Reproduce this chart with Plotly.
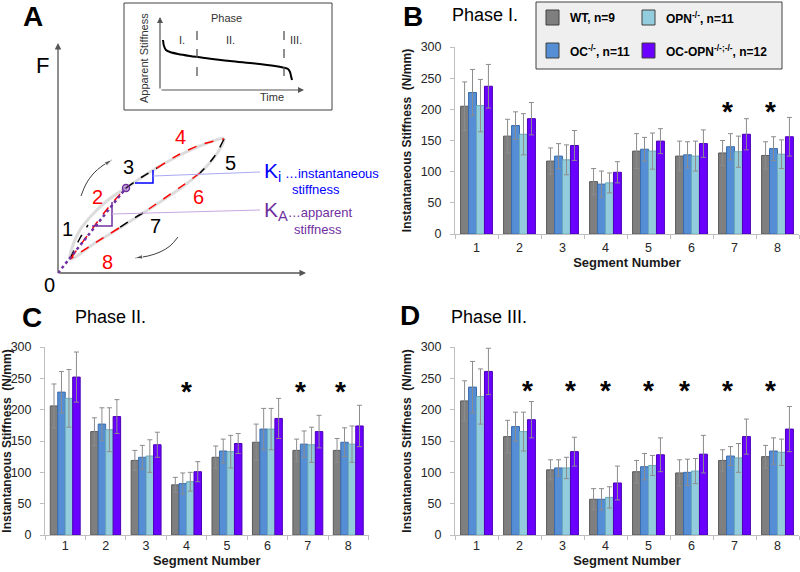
import plotly.graph_objects as go

FONT = "Liberation Sans, Arial, sans-serif"
W, H = 800, 572

# ---------------- data ----------------
segments = ["1", "2", "3", "4", "5", "6", "7", "8"]
group_names = ["WT, n=9", "OC<sup>-/-</sup>, n=11", "OPN<sup>-/-</sup>, n=11",
               "OC-OPN<sup>-/-;-/-</sup>, n=12"]
group_fill = ["#7f7f7f", "#558ed5", "#93cddd", "#6a00ff"]
group_line = ["#5a5a5a", "#3b6cab", "#6aaabb", "#4a00b5"]

phase1_wt = [205, 157, 117, 84, 133, 125, 130, 126]
phase1_wt_sd = [39, 27, 21, 21, 28, 24, 20, 22]
phase1_oc = [227, 174, 125, 80, 136, 127, 140, 137]
phase1_oc_sd = [37, 22, 20, 21, 19, 21, 21, 19]
phase1_opn = [206, 160, 119, 82, 133, 125, 132, 128]
phase1_opn_sd = [42, 33, 24, 16, 29, 24, 25, 23]
phase1_dko = [237, 185, 142, 99, 149, 145, 160, 156]
phase1_dko_sd = [35, 26, 24, 17, 20, 22, 25, 31]

phase2_wt = [206, 165, 119, 80, 124, 148, 135, 135]
phase2_wt_sd = [35, 22, 16, 12, 18, 29, 18, 19]
phase2_oc = [228, 177, 124, 82, 134, 169, 145, 148]
phase2_oc_sd = [33, 26, 19, 17, 19, 33, 21, 23]
phase2_opn = [218, 168, 126, 85, 133, 169, 144, 145]
phase2_opn_sd = [46, 35, 26, 15, 26, 33, 28, 29]
phase2_dko = [252, 189, 144, 101, 146, 186, 165, 174]
phase2_dko_sd = [40, 27, 20, 16, 16, 32, 26, 33]

phase3_wt = [214, 157, 104, 57, 101, 99, 119, 125]
phase3_wt_sd = [32, 26, 16, 17, 18, 21, 17, 18]
phase3_oc = [236, 173, 107, 57, 109, 100, 126, 134]
phase3_oc_sd = [41, 23, 13, 17, 21, 21, 15, 21]
phase3_opn = [221, 165, 107, 60, 111, 102, 123, 132]
phase3_opn_sd = [44, 31, 17, 17, 16, 20, 23, 21]
phase3_dko = [261, 184, 133, 83, 128, 129, 157, 169]
phase3_dko_sd = [37, 29, 23, 27, 27, 30, 28, 36]

stars_phase1 = ["7", "8"]
stars_phase2 = ["4", "7", "8"]
stars_phase3 = ["2", "3", "4", "5", "6", "7", "8"]
star_level = [202, 234, 236]

# schematic (panel A) outline points, in the schematic's own units
gray_loop_x = [70, 73, 80, 92, 108, 126, 150, 180, 205, 224, 218, 205, 185, 160, 140, 118, 95, 70]
gray_loop_y = [259, 245, 230, 215, 200, 188, 172, 155, 144, 139, 152, 168, 185, 202, 215, 229, 243, 259]
seg_black_x = [[70, 79, 88], [126, 142, 157], [224, 214, 200], [143, 131, 119]]
seg_black_y = [[259, 240, 225], [188, 177, 168], [139, 157, 173], [213, 220, 228]]
seg_red_x = [[71, 90, 108, 126], [157, 180, 203, 224], [200, 182, 162, 143], [119, 95, 70]]
seg_red_y = [[258, 232, 208, 188], [168, 154, 144, 139], [173, 186, 200, 213], [228, 243, 259]]
inset_curve_x = [163, 164, 166, 170, 178, 190, 205, 230, 255, 275, 283, 288, 290, 291, 292]
inset_curve_y = [40, 46, 50, 52, 54, 56, 58, 61, 63.5, 66, 67.5, 69, 72, 76, 80]

# ---------------- figure ----------------
fig = go.Figure()

panels = [
    ("x", "y", [phase1_wt, phase1_oc, phase1_opn, phase1_dko],
     [phase1_wt_sd, phase1_oc_sd, phase1_opn_sd, phase1_dko_sd]),
    ("x2", "y2", [phase2_wt, phase2_oc, phase2_opn, phase2_dko],
     [phase2_wt_sd, phase2_oc_sd, phase2_opn_sd, phase2_dko_sd]),
    ("x3", "y3", [phase3_wt, phase3_oc, phase3_opn, phase3_dko],
     [phase3_wt_sd, phase3_oc_sd, phase3_opn_sd, phase3_dko_sd]),
]
for xa, ya, vals, sds in panels:
    for i in range(4):
        fig.add_trace(go.Bar(
            x=segments, y=vals[i], name=group_names[i], xaxis=xa, yaxis=ya,
            marker=dict(color=group_fill[i], line=dict(color=group_line[i], width=1)),
            error_y=dict(type="data", array=sds[i], color="#8c8c8c", thickness=1, width=2.5),
            showlegend=False, offsetgroup=str(i),
        ))

# schematic traces
SA = dict(xaxis="x4", yaxis="y4", showlegend=False, hoverinfo="skip")
fig.add_trace(go.Scatter(x=gray_loop_x, y=gray_loop_y, mode="lines",
                         line=dict(color="#dcdcdc", width=3, shape="spline"), **SA))
for xs, ys in zip(seg_black_x, seg_black_y):
    fig.add_trace(go.Scatter(x=xs, y=ys, mode="lines",
                             line=dict(color="black", width=1.5, dash="dash", shape="spline"), **SA))
for xs, ys in zip(seg_red_x, seg_red_y):
    fig.add_trace(go.Scatter(x=xs, y=ys, mode="lines",
                             line=dict(color="#ff0000", width=1.5, dash="dash", shape="spline"), **SA))
fig.add_trace(go.Scatter(x=[58, 126], y=[273, 188], mode="lines",
                         line=dict(color="#7030a0", width=2.5, dash="dot"), **SA))
fig.add_trace(go.Scatter(x=[126], y=[188], mode="markers",
                         marker=dict(color="rgba(112,48,160,0.35)", size=7,
                                     line=dict(color="#7030a0", width=1.5)), **SA))
fig.add_trace(go.Scatter(x=[92, 112, 112], y=[226, 226, 202], mode="lines",
                         line=dict(color="#7030a0", width=1.5), **SA))
fig.add_trace(go.Scatter(x=[135, 153, 153], y=[183, 183, 170], mode="lines",
                         line=dict(color="#0000ff", width=1.5), **SA))
fig.add_trace(go.Scatter(x=[153, 260], y=[176, 172], mode="lines",
                         line=dict(color="#a9a9f5", width=1), **SA))
fig.add_trace(go.Scatter(x=[112, 260], y=[214, 210], mode="lines",
                         line=dict(color="#c5a8dc", width=1), **SA))
fig.add_trace(go.Scatter(x=[81, 86, 93, 102, 112], y=[196, 184, 174, 166, 160], mode="lines+markers",
                         line=dict(color="#404040", width=1, shape="spline"),
                         marker=dict(symbol="arrow", angleref="previous", size=[0, 0, 0, 0, 8],
                                     color="#404040"), **SA))
fig.add_trace(go.Scatter(x=[178, 170, 160, 148, 135], y=[237, 246, 252, 256, 258], mode="lines+markers",
                         line=dict(color="#404040", width=1, shape="spline"),
                         marker=dict(symbol="arrow", angleref="previous", size=[0, 0, 0, 0, 8],
                                     color="#404040"), **SA))
fig.add_trace(go.Scatter(x=inset_curve_x, y=inset_curve_y, mode="lines",
                         line=dict(color="black", width=2, shape="spline"), **SA))
for xv in [197, 284]:
    fig.add_trace(go.Scatter(x=[xv, xv], y=[31, 80], mode="lines",
                             line=dict(color="#555555", width=1.3, dash="dash"), **SA))

# ---------------- axes ----------------
def px(x):
    return x / W


def py(y):
    return 1 - y / H


axis_line = "#bfbfbf"
tickfont = dict(family=FONT, size=12.5, color="#262626")
titlefont = dict(family=FONT, size=13, color="#1a1a1a")


def xax(dom, anchor, label_gap, title_gap):
    return dict(domain=dom, anchor=anchor, type="category", range=[-0.5, 7.5],
                showline=True, linecolor=axis_line, linewidth=1, ticks="outside",
                tickson="boundaries", ticklen=4, tickcolor=axis_line, tickfont=tickfont,
                ticklabelstandoff=label_gap,
                title=dict(text="<b>Segment Number</b>", font=titlefont, standoff=title_gap),
                showgrid=False, zeroline=False, fixedrange=True)


def yax(dom, anchor, standoff):
    return dict(domain=dom, anchor=anchor, range=[0, 300], dtick=50,
                showline=True, linecolor=axis_line, linewidth=1, ticks="outside",
                ticklen=4, tickcolor=axis_line, tickfont=tickfont, ticklabelstandoff=6,
                title=dict(text="<b>Instantaneous Stiffness  (N/mm)</b>",
                           font=dict(family=FONT, size=12, color="#1a1a1a"), standoff=standoff),
                showgrid=False, zeroline=False, fixedrange=True)


B_X = [px(455), px(799)]
C_X = [px(45), px(368.5)]
TOP_Y = [py(234), py(47)]
BOT_Y = [py(535), py(347)]

fig.update_layout(
    width=W, height=H, margin=dict(l=0, r=0, t=0, b=0, autoexpand=False),
    paper_bgcolor="white", plot_bgcolor="rgba(0,0,0,0)",
    barmode="group", bargap=0.26, bargroupgap=0,
    font=dict(family=FONT, color="black"),
    xaxis=xax(B_X, "y", 2, 2),
    yaxis=yax(TOP_Y, "x", 6),
    xaxis2=xax(C_X, "y2", -1, 2),
    yaxis2=yax(BOT_Y, "x2", 3),
    xaxis3=xax(B_X, "y3", -1, 2),
    yaxis3=yax(BOT_Y, "x3", 6),
    xaxis4=dict(domain=[0, 0.5], anchor="y4", range=[0, 400], visible=False, fixedrange=True),
    yaxis4=dict(domain=[0.5, 1], anchor="x4", range=[286, 0], visible=False, fixedrange=True),
)

ann = []
shapes = []

for txt, x, y in [("A", 33, 17), ("B", 413, 16), ("C", 32, 317), ("D", 410, 315)]:
    ann.append(dict(text="<b>" + txt + "</b>", x=px(x), y=py(y), xref="paper", yref="paper",
                    showarrow=False, font=dict(family=FONT, size=28, color="black"),
                    xanchor="center", yanchor="middle"))
for txt, x, y in [("Phase I.", 450, 15), ("Phase II.", 73, 317), ("Phase III.", 449, 317)]:
    ann.append(dict(text=txt, x=px(x), y=py(y), xref="paper", yref="paper", showarrow=False,
                    font=dict(family=FONT, size=18, color="black"), xanchor="left", yanchor="middle"))

# stars (placed at category centres in axis-domain units)
for xa, ya, cats, lvl in [("x", "y", stars_phase1, star_level[0]),
                          ("x2", "y2", stars_phase2, star_level[1]),
                          ("x3", "y3", stars_phase3, star_level[2])]:
    for c in cats:
        k = segments.index(c)
        ann.append(dict(text="<b>*</b>", x=(k + 0.5) / len(segments), y=lvl,
                        xref=xa + " domain", yref=ya, showarrow=False,
                        font=dict(family=FONT, size=28, color="black"), yanchor="middle",
                        yshift=-3))

# legend (manual)
shapes.append(dict(type="rect", xref="paper", yref="paper", x0=px(536), x1=px(782),
                   y0=py(69), y1=py(2), fillcolor="#efefef", line=dict(color="#404040", width=1)))
legend_pos = [(546, 10, 0), (546, 43, 1), (642, 10, 2), (642, 43, 3)]
for x, y, i in legend_pos:
    shapes.append(dict(type="rect", xref="paper", yref="paper", x0=px(x), x1=px(x + 13),
                       y0=py(y + 15), y1=py(y), fillcolor=group_fill[i],
                       line=dict(color="#404040", width=1)))
    ann.append(dict(text="<b>" + group_names[i] + "</b>", x=px(x + 22), y=py(y + 7.5),
                    xref="paper", yref="paper", showarrow=False, xanchor="left", yanchor="middle",
                    font=dict(family=FONT, size=12, color="black")))


def sa(text, x, y, size, color="black", xanchor="center", angle=0):
    ann.append(dict(text=text, x=x, y=y, xref="x4", yref="y4", showarrow=False,
                    font=dict(family=FONT, size=size, color=color), xanchor=xanchor,
                    yanchor="middle", textangle=angle))


sa("F", 42, 65, 22)
sa("0", 49, 285, 20)
sa("d", 283, 287, 22)
for t, x, y, c in [("1", 67, 229, "black"), ("2", 97, 197, "red"), ("3", 128, 167, "black"),
                   ("4", 180, 137, "red"), ("5", 230, 163, "black"), ("6", 198, 197, "red"),
                   ("7", 155, 226, "black"), ("8", 107, 262, "red")]:
    sa(t, x, y, 20, c)
sa("K<sub>i</sub><span style='font-size:13px'> …instantaneous</span>", 262, 172, 21, "#0000ff", "left")
sa("stiffness", 316, 189, 13, "#0000ff")
sa("K<sub>A</sub><span style='font-size:13px'>…apparent</span>", 262, 211, 21, "#7030a0", "left")
sa("stiffness", 318, 229, 13, "#7030a0")
sa("Phase", 226, 18, 11, "#333333")
sa("I.", 182, 40, 11, "#333333")
sa("II.", 230, 40, 11, "#333333")
sa("III.", 296, 40, 11, "#333333")
sa("Time", 272, 97, 11, "#333333")
sa("Apparent Stiffness", 144, 58, 11, "#333333", angle=-90)

for (x0, y0, x1, y1, w) in [(58, 273, 58, 43, 1.3), (58, 273, 306, 273, 1.3),
                            (160, 90, 160, 17, 1.2), (160, 90, 304, 90, 1.2)]:
    ann.append(dict(x=x1, y=y1, ax=x0, ay=y0, xref="x4", yref="y4", axref="x4", ayref="y4",
                    text="", showarrow=True, arrowhead=2, arrowsize=1, arrowwidth=w,
                    arrowcolor="#555555", standoff=0))

shapes.append(dict(type="rect", xref="x4", yref="y4", x0=124, x1=332, y0=3, y1=110,
                   line=dict(color="#404040", width=1), fillcolor="rgba(0,0,0,0)", layer="below"))

fig.update_layout(annotations=ann, shapes=shapes)
fig.write_html("out.html", config={"displayModeBar": False},
               post_script="document.body.style.margin='0';document.body.style.overflow='hidden';")
